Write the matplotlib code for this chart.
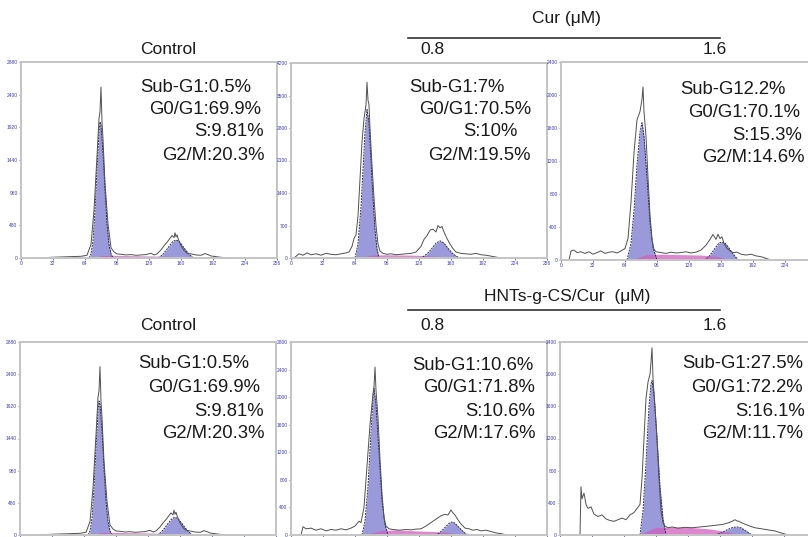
import matplotlib
matplotlib.use("Agg")
import matplotlib.pyplot as plt

plt.rcParams['font.family'] = ['Liberation Sans', 'DejaVu Sans']

W, H = 808, 537

# ---------------- data ----------------
x_ticks = [0, 32, 64, 96, 128, 160, 192, 224, 256]
y_ticks_ctrl = [0, 480, 960, 1440, 1920, 2400, 2880]
y_ticks_cur08 = [0, 700, 1400, 2100, 2800, 3500, 4200]
y_ticks_cur16 = [0, 400, 800, 1200, 1600, 2000, 2400]
y_ticks_hnt08 = [0, 400, 800, 1200, 1600, 2000, 2400, 2800]
y_ticks_hnt16 = [0, 400, 800, 1200, 1600, 2000, 2400]

# Control (raw histogram outline)
ctrl_raw_x = [20, 30, 40, 50, 60, 66, 70, 73, 76, 78, 79, 80, 81, 82, 84, 87, 90, 93, 96, 100,
              105, 110, 115, 120, 125, 130, 133, 136, 140, 143, 146, 149, 151, 153, 154, 155,
              156, 157, 158, 160, 163, 166, 170, 175, 180, 184, 187, 190, 195, 200, 210]
ctrl_raw_y = [0, 10, 15, 20, 25, 40, 200, 700, 1500, 2050, 2150, 2513, 2000, 1750, 1100, 500,
              150, 90, 60, 55, 45, 50, 40, 45, 50, 70, 45, 60, 120, 180, 230, 290, 330, 300,
              370, 310, 340, 290, 250, 180, 110, 70, 60, 45, 40, 65, 50, 30, 20, 10, 0]
ctrl_g1_x = [68, 70, 72, 74, 76, 78, 79, 80, 82, 84, 86, 88, 90, 92]
ctrl_g1_y = [0, 60, 250, 700, 1300, 1850, 2000, 1950, 1550, 1000, 500, 200, 60, 0]
ctrl_g2_x = [137, 141, 145, 149, 152, 155, 158, 161, 165, 169, 173]
ctrl_g2_y = [0, 40, 110, 190, 245, 264, 245, 190, 110, 40, 0]
ctrl_s_x = [72, 80, 90, 110, 130, 145, 160, 170]
ctrl_s_y = [0, 35, 40, 35, 30, 25, 12, 0]

# Cur 0.8
cur08_raw_x = [3, 8, 12, 16, 20, 25, 30, 35, 40, 45, 50, 55, 58, 61, 63, 65, 67, 69, 71, 73,
               75, 76, 77, 78, 79, 81, 83, 85, 87, 89, 92, 96, 100, 105, 110, 115, 120, 125,
               130, 133, 136, 139, 142, 145, 147, 149, 151, 153, 156, 159, 162, 165, 170, 175,
               180, 185, 190, 195, 200, 205, 210]
cur08_raw_y = [0, 90, 60, 110, 70, 90, 60, 100, 80, 70, 90, 110, 130, 250, 420, 500, 900, 1700,
               2500, 3000, 3300, 3786, 3400, 3300, 2800, 2000, 1300, 700, 300, 150, 100, 80, 90,
               70, 80, 90, 100, 130, 250, 400, 480, 600, 620, 560, 700, 650, 680, 560, 420, 300,
               200, 130, 100, 90, 80, 100, 70, 60, 40, 20, 0]
cur08_g1_x = [64, 67, 70, 72, 74, 76, 78, 80, 82, 84, 86, 88]
cur08_g1_y = [0, 300, 1100, 1900, 2700, 3199, 2900, 2100, 1300, 600, 200, 0]
cur08_g2_x = [129, 133, 137, 141, 145, 149, 153, 157, 161, 165, 169]
cur08_g2_y = [0, 40, 110, 210, 320, 370, 320, 210, 110, 40, 0]
cur08_s_x = [68, 80, 95, 110, 125, 140, 155, 165]
cur08_s_y = [0, 60, 70, 65, 60, 45, 22, 0]

# Cur 1.6
cur16_raw_x = [8, 10, 13, 16, 20, 24, 28, 32, 36, 40, 44, 48, 52, 56, 60, 64, 67, 70, 73, 76,
               79, 81, 82, 83, 85, 87, 89, 91, 93, 95, 100, 105, 110, 115, 120, 125, 130, 135,
               140, 145, 149, 152, 155, 157, 159, 161, 163, 166, 169, 172, 176, 180, 185, 190,
               195, 200, 205, 210]
cur16_raw_y = [0, 110, 120, 90, 100, 80, 100, 70, 90, 110, 80, 95, 100, 85, 110, 140, 260, 700,
               1300, 1700, 1800, 1950, 2098, 1800, 1500, 1000, 550, 250, 130, 100, 90, 80, 95,
               85, 90, 100, 85, 95, 120, 180, 250, 310, 250, 313, 260, 280, 200, 140, 110, 90,
               95, 70, 60, 70, 50, 40, 20, 0]
cur16_g1_x = [66, 70, 73, 76, 79, 81, 83, 86, 89, 92, 96]
cur16_g1_y = [0, 200, 600, 1150, 1550, 1664, 1500, 1000, 450, 150, 0]
cur16_g2_x = [143, 147, 151, 155, 158, 161, 164, 167, 171, 175, 178]
cur16_g2_y = [0, 30, 90, 160, 205, 217, 205, 160, 90, 30, 0]
cur16_s_x = [70, 85, 100, 120, 140, 155, 170]
cur16_s_y = [0, 65, 70, 65, 60, 45, 0]

# HNTs-g-CS/Cur 0.8
hnt08_raw_x = [10, 12, 15, 20, 25, 30, 35, 40, 45, 50, 55, 60, 64, 68, 70, 73, 76, 79, 82, 83,
               84, 85, 87, 89, 91, 93, 95, 98, 102, 108, 115, 120, 125, 130, 135, 140, 145, 150,
               154, 157, 160, 162, 164, 167, 170, 174, 178, 182, 186, 190, 195, 200, 205, 210, 216]
hnt08_raw_y = [0, 120, 90, 100, 70, 90, 60, 80, 70, 90, 75, 100, 130, 200, 180, 400, 1000, 1600,
               2050, 2150, 2436, 2100, 1700, 1100, 600, 250, 130, 90, 80, 70, 80, 75, 85, 90,
               130, 180, 230, 280, 300, 290, 363, 320, 290, 220, 160, 100, 90, 70, 80, 60, 70,
               50, 30, 20, 0]
hnt08_g1_x = [71, 74, 77, 80, 82, 83, 85, 88, 91, 94, 97]
hnt08_g1_y = [0, 200, 700, 1500, 2000, 2128, 1900, 1200, 500, 150, 0]
hnt08_g2_x = [144, 148, 152, 156, 159, 161, 163, 166, 170, 174, 178]
hnt08_g2_y = [0, 25, 80, 140, 180, 189, 180, 140, 80, 25, 0]
hnt08_s_x = [74, 90, 105, 125, 145, 160, 172]
hnt08_s_y = [0, 65, 75, 60, 50, 32, 0]

# HNTs-g-CS/Cur 1.6
hnt16_raw_x = [20, 21, 22, 24, 26, 28, 31, 34, 38, 42, 46, 50, 54, 58, 62, 66, 70, 74, 77, 80,
               82, 84, 86, 88, 90, 91, 92, 93, 95, 97, 99, 101, 103, 105, 108, 112, 118, 125,
               132, 140, 148, 155, 162, 168, 172, 175, 177, 179, 182, 186, 190, 195, 200, 205,
               210, 215, 220, 228]
hnt16_raw_y = [0, 600, 450, 520, 380, 330, 350, 260, 230, 250, 200, 180, 170, 190, 210, 190, 250,
               280, 330, 380, 700, 1200, 1700, 1900, 2000, 2150, 2328, 1950, 1600, 1200, 700,
               300, 150, 110, 90, 100, 85, 95, 90, 100, 110, 120, 130, 150, 170, 190, 175, 170,
               150, 130, 110, 90, 80, 70, 60, 50, 30, 0]
hnt16_g1_x = [80, 83, 86, 89, 91, 92, 94, 97, 100, 103, 106]
hnt16_g1_y = [0, 300, 900, 1600, 1880, 1920, 1750, 1200, 600, 200, 0]
hnt16_g2_x = [155, 162, 168, 173, 177, 181, 186, 192]
hnt16_g2_y = [0, 30, 70, 95, 100, 90, 50, 0]
hnt16_s_x = [78, 95, 110, 130, 150, 165, 180]
hnt16_s_y = [0, 90, 100, 95, 75, 45, 0]

# stats text
ctrl_stats = ["Sub-G1:0.5%", "G0/G1:69.9%", "S:9.81%", "G2/M:20.3%"]
cur08_stats = ["Sub-G1:7%", "G0/G1:70.5%", "S:10%", "G2/M:19.5%"]
cur16_stats = ["Sub-G12.2%", "G0/G1:70.1%", "S:15.3%", "G2/M:14.6%"]
hnt08_stats = ["Sub-G1:10.6%", "G0/G1:71.8%", "S:10.6%", "G2/M:17.6%"]
hnt16_stats = ["Sub-G1:27.5%", "G0/G1:72.2%", "S:16.1%", "G2/M:11.7%"]

# ---------------- layout ----------------
panels = [
    dict(l=21, t=62, b=258, raw=(ctrl_raw_x, ctrl_raw_y), g1=(ctrl_g1_x, ctrl_g1_y),
         g2=(ctrl_g2_x, ctrl_g2_y), s=(ctrl_s_x, ctrl_s_y), yt=y_ticks_ctrl,
         stats=ctrl_stats, sx=[140, 149, 194, 162], sy=[87, 109, 132, 155], xl=True),
    dict(l=291, t=63, b=258, raw=(cur08_raw_x, cur08_raw_y), g1=(cur08_g1_x, cur08_g1_y),
         g2=(cur08_g2_x, cur08_g2_y), s=(cur08_s_x, cur08_s_y), yt=y_ticks_cur08,
         stats=cur08_stats, sx=[409, 419, 463, 428], sy=[87, 110, 132, 155], xl=True),
    dict(l=561, t=62, b=260, raw=(cur16_raw_x, cur16_raw_y), g1=(cur16_g1_x, cur16_g1_y),
         g2=(cur16_g2_x, cur16_g2_y), s=(cur16_s_x, cur16_s_y), yt=y_ticks_cur16,
         stats=cur16_stats, sx=[680, 688, 732, 702], sy=[90, 113, 135, 157], xl=True),
    dict(l=20, t=342, b=535, raw=(ctrl_raw_x, ctrl_raw_y), g1=(ctrl_g1_x, ctrl_g1_y),
         g2=(ctrl_g2_x, ctrl_g2_y), s=(ctrl_s_x, ctrl_s_y), yt=y_ticks_ctrl,
         stats=ctrl_stats, sx=[138, 148, 194, 162], sy=[364, 388, 411, 433], xl=False),
    dict(l=291, t=342, b=535, raw=(hnt08_raw_x, hnt08_raw_y), g1=(hnt08_g1_x, hnt08_g1_y),
         g2=(hnt08_g2_x, hnt08_g2_y), s=(hnt08_s_x, hnt08_s_y), yt=y_ticks_hnt08,
         stats=hnt08_stats, sx=[412, 423, 465, 433], sy=[365, 388, 412, 433], xl=False),
    dict(l=560, t=342, b=535, raw=(hnt16_raw_x, hnt16_raw_y), g1=(hnt16_g1_x, hnt16_g1_y),
         g2=(hnt16_g2_x, hnt16_g2_y), s=(hnt16_s_x, hnt16_s_y), yt=y_ticks_hnt16,
         stats=hnt16_stats, sx=[682, 691, 735, 702], sy=[364, 388, 412, 433], xl=False),
]

fig = plt.figure(figsize=(W / 100, H / 100), dpi=100)

FILL = '#8f8fd8'
PINK = '#d35fc0'
TICKC = '#3a3ab8'

for p in panels:
    ax = fig.add_axes([p['l'] / W, 1 - p['b'] / H, 256 / W, (p['b'] - p['t']) / H])
    ymax = p['yt'][-1]
    ax.set_xlim(0, 256)
    ax.set_ylim(0, ymax)
    gx, gy = p['g1']
    ax.fill_between(gx, gy, color=FILL, alpha=0.9, lw=0)
    ax.plot(gx, gy, color='#2b2b55', lw=0.7, ls=(0, (2, 1)))
    gx, gy = p['g2']
    ax.fill_between(gx, gy, color=FILL, alpha=0.9, lw=0)
    ax.plot(gx, gy, color='#2b2b55', lw=0.7, ls=(0, (2, 1)))
    sx_, sy_ = p['s']
    ax.fill_between(sx_, sy_, color=PINK, alpha=0.75, lw=0)
    rx, ry = p['raw']
    ax.plot(rx, ry, color='#505050', lw=0.7)
    # keep only tick labels that fall inside the figure
    right_px = p['l'] + 256
    vis = [t for t in x_ticks if p['l'] + t <= W - 6]
    ax.set_xticks(x_ticks)
    ax.set_xticklabels([str(t) if t in vis else '' for t in x_ticks])
    ax.set_yticks(p['yt'])
    ax.tick_params(labelsize=3.5, colors=TICKC, length=1.5, width=0.5, pad=1)
    if not p['xl']:
        ax.tick_params(axis='x', labelbottom=False)
    for sp in ax.spines.values():
        sp.set_color('#c4c4c4')
        sp.set_linewidth(1.4)
    for txt, xx, yy in zip(p['stats'], p['sx'], p['sy']):
        fig.text(xx / W, 1 - yy / H, txt, fontsize=13.3, ha='left', va='center', color='#1a1a1a')

# headers
def ftxt(x, y, s, **kw):
    fig.text(x / W, 1 - y / H, s, ha='center', va='center', color='#1a1a1a', **kw)

ftxt(168, 49, "Control", fontsize=12.5)
ftxt(432, 49, "0.8", fontsize=12.5)
ftxt(715, 49, "1.6", fontsize=12.5)
ftxt(566, 18, "Cur (μM)", fontsize=12.5)
fig.add_artist(plt.Line2D([408 / W, 720 / W], [1 - 38 / H, 1 - 38 / H], color='#333333', lw=1.2))

ftxt(168, 326, "Control", fontsize=12.5)
ftxt(432, 326, "0.8", fontsize=12.5)
ftxt(715, 326, "1.6", fontsize=12.5)
ftxt(567, 296, "HNTs-g-CS/Cur  (μM)", fontsize=12.5)
fig.add_artist(plt.Line2D([408 / W, 720 / W], [1 - 310 / H, 1 - 310 / H], color='#333333', lw=1.2))

fig.savefig("out.png", dpi=100)
